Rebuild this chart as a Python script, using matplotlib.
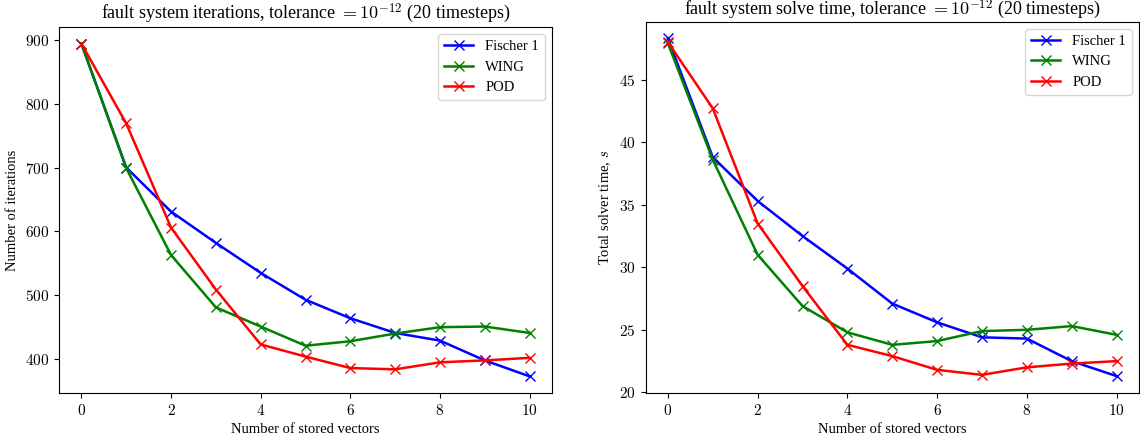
import numpy as np
import matplotlib
matplotlib.use("Agg")
import matplotlib.pyplot as plt
from matplotlib.ticker import FuncFormatter

plt.rcParams['font.family'] = ['Liberation Serif', 'DejaVu Serif']
plt.rcParams['mathtext.fontset'] = 'cm'
plt.rcParams['font.size'] = 10.5

# number of stored vectors
n_vectors = list(range(11))

# iterations
iters_fischer = [894, 700, 631, 582, 535, 493, 464, 441, 429, 398, 373]
iters_wing = [894, 699, 563, 481, 451, 421, 428, 440, 450, 451, 441]
iters_pod = [894, 769, 606, 509, 423, 404, 386, 384, 395, 398, 402]

# solve time (s)
time_fischer = [48.3, 38.8, 35.3, 32.5, 29.9, 27.1, 25.6, 24.4, 24.3, 22.5, 21.3]
time_wing = [47.9, 38.6, 31.0, 26.9, 24.8, 23.8, 24.1, 24.9, 25.0, 25.3, 24.6]
time_pod = [48.0, 42.7, 33.5, 28.5, 23.8, 22.9, 21.8, 21.4, 22.0, 22.3, 22.5]

labels = ["Fischer 1", "WING", "POD"]
colors = ["b", "g", "r"]

fig = plt.figure(figsize=(11.4, 4.42), dpi=100)
ax1 = fig.add_axes([59 / 1140, 1 - 393 / 442, (552 - 59) / 1140, (393 - 27) / 442])
ax2 = fig.add_axes([645.5 / 1140, 1 - 393 / 442, (1139 - 645.5) / 1140, (393 - 21.5) / 442])

math_fmt = FuncFormatter(lambda v, pos: f"${v:g}$")

for ax, series in [(ax1, [iters_fischer, iters_wing, iters_pod]),
                   (ax2, [time_fischer, time_wing, time_pod])]:
    for vals, lab, c in zip(series, labels, colors):
        ax.plot(n_vectors, vals, c + "-x", label=lab, lw=1.8, ms=7)
    ax.legend(loc="upper right", fontsize=10.5)
    ax.set_xlabel("Number of stored vectors")
    ax.xaxis.set_major_formatter(math_fmt)
    ax.yaxis.set_major_formatter(math_fmt)
    ax.tick_params(labelsize=11)

ax1.set_ylabel("Number of iterations")
ax1.set_title(r"fault system iterations, tolerance $= 10^{-12}$ (20 timesteps)", fontsize=13)
ax2.set_ylabel(r"Total solver time, $s$")
ax2.set_title(r"fault system solve time, tolerance $= 10^{-12}$ (20 timesteps)", fontsize=13, pad=3)

fig.savefig("out.png", dpi=100)
